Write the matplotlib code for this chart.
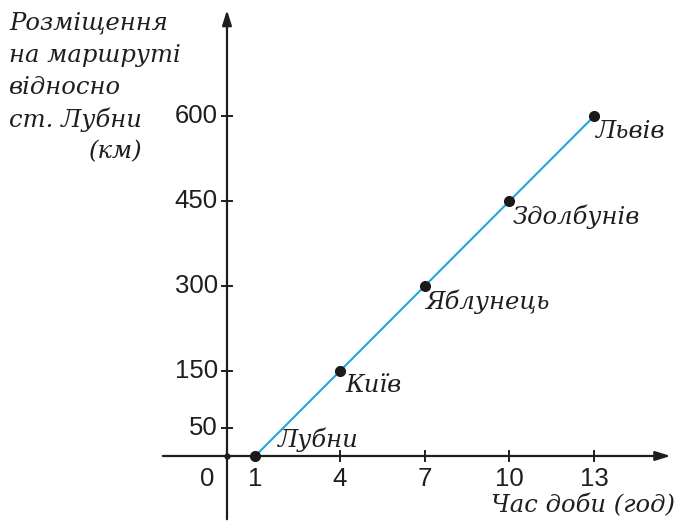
import matplotlib.pyplot as plt

# Дані: час доби (год) і відстань від ст. Лубни (км)
hours = [1, 4, 7, 10, 13]
distance = [0, 150, 300, 450, 600]
stations = ["Лубни", "Київ", "Яблунець", "Здолбунів", "Львів"]
x_ticks = [1, 4, 7, 10, 13]
y_ticks = [50, 150, 300, 450, 600]
y_title = ["Розміщення", "на маршруті", "відносно", "ст. Лубни"]

serif = "DejaVu Serif"
sans = "Liberation Sans"
ink = "#1f1d1e"

fig = plt.figure(figsize=(6.76, 5.22), dpi=100)
ax = fig.add_axes([0, 0, 1, 1])
ax.set_xlim(-8.035, 15.894)
ax.set_ylim(-116.5, 804.7)
ax.axis("off")

px_x = 1 / 28.25   # одиниць x на піксель
px_y = 1 / 0.5667  # одиниць y на піксель

# Осі зі стрілками
arrow = dict(arrowstyle="-|>,head_length=0.9,head_width=0.28", color=ink, lw=1.6)
ax.annotate("", xy=(15.8, 0), xytext=(-2.37, 0), arrowprops=arrow)
ax.annotate("", xy=(0, 792), xytext=(0, -116.5), arrowprops=arrow)
ax.plot(0, 0, "o", color=ink, ms=3.5)

# Поділки
for t in x_ticks[1:]:
    ax.plot([t, t], [-8, 8], color=ink, lw=1.4)
for v in y_ticks:
    ax.plot([-0.18, 0.18], [v, v], color=ink, lw=1.4)

for t in x_ticks:
    ax.text(t, -40, str(t), ha="center", va="center", fontsize=18.5, family=sans, color=ink)
ax.text(-0.7, -40, "0", ha="center", va="center", fontsize=18.5, family=sans, color=ink)
for v in y_ticks:
    ax.text(-0.32, v, str(v), ha="right", va="center", fontsize=18.5, family=sans, color=ink)

# Графік руху
ax.plot(hours, distance, color="#1ea6e2", lw=1.5, zorder=2)
ax.plot(hours, distance, "o", color="#1a1a1a", ms=7, zorder=3)

offsets = [(0.8, 28), (0.2, -25), (0.05, -27), (0.1, -27), (0.05, -27)]
for h, d, name, (dx, dy) in zip(hours, distance, stations, offsets):
    ax.text(h + dx, d + dy, name, ha="left", va="center", fontsize=17.5,
            family=serif, style="italic", color=ink)

# Підписи осей
for i, line in enumerate(y_title):
    ax.text(-8.035 + 9 * px_x, 804.7 - (23 + 32.3 * i) * px_y, line,
            ha="left", va="center", fontsize=17.5, family=serif, style="italic", color=ink)
ax.text(-8.035 + 143 * px_x, 804.7 - 152 * px_y, "(км)", ha="right", va="center",
        fontsize=17.5, family=serif, style="italic", color=ink)
ax.text(15.85, -88, "Час доби (год)", ha="right", va="center", fontsize=17.5,
        family=serif, style="italic", color=ink)

fig.savefig("out.png", dpi=100)
